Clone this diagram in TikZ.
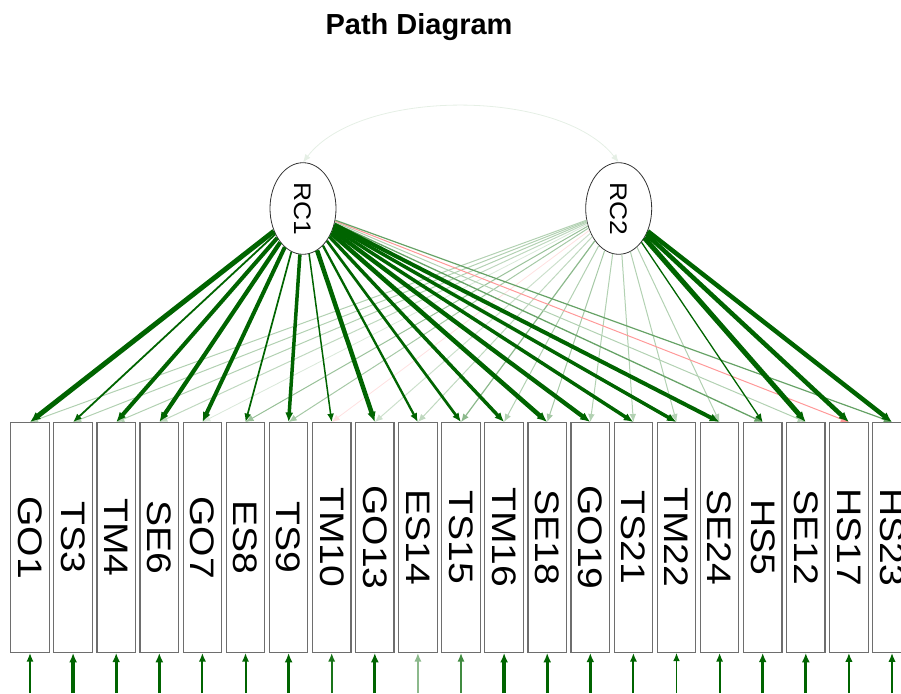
\documentclass[tikz,border=0pt]{standalone}
\usepackage{fontspec}
\setmainfont{Liberation Sans}
\usetikzlibrary{arrows.meta,shapes.geometric}
\definecolor{loadgreen}{RGB}{0,100,0}
\definecolor{framegray}{RGB}{110,110,110}
% label/main factor/cross factor/main width/cross width/cross colour/residual width/residual colour
\newcommand\itemlist{%
  GO1/rc1/rc2/5.0/1.0/loadgreen!30/2.0/loadgreen,
  TS3/rc1/rc2/1.8/1.0/loadgreen!30/3.3/loadgreen,
  TM4/rc1/rc2/4.0/1.0/loadgreen!30/2.7/loadgreen,
  SE6/rc1/rc2/4.2/1.0/loadgreen!25/3.3/loadgreen,
  GO7/rc1/rc2/4.0/0.8/loadgreen!15/2.0/loadgreen,
  ES8/rc1/rc2/1.7/1.0/loadgreen!40/2.0/loadgreen,
  TS9/rc1/rc2/3.5/1.0/loadgreen!35/3.3/loadgreen,
  TM10/rc1/rc2/1.5/0.8/red!12/2.0/loadgreen!90,
  GO13/rc1/rc2/4.5/1.0/loadgreen!20/3.3/loadgreen,
  ES14/rc1/rc2/2.3/1.0/loadgreen!25/2.0/loadgreen!45,
  TS15/rc1/rc2/2.7/1.2/loadgreen!45/2.0/loadgreen!75,
  TM16/rc1/rc2/3.5/1.0/loadgreen!30/3.3/loadgreen,
  SE18/rc1/rc2/4.5/1.0/loadgreen!35/3.3/loadgreen,
  GO19/rc1/rc2/4.3/1.0/loadgreen!30/2.7/loadgreen,
  TS21/rc1/rc2/3.5/1.0/loadgreen!30/2.0/loadgreen,
  TM22/rc1/rc2/3.5/1.0/loadgreen!30/1.3/loadgreen,
  SE24/rc1/rc2/4.0/1.0/loadgreen!30/2.0/loadgreen,
  HS5/rc2/rc1/1.3/1.3/loadgreen!60/2.7/loadgreen,
  SE12/rc2/rc1/5.0/1.0/loadgreen!30/3.3/loadgreen,
  HS17/rc2/rc1/4.5/1.0/red!40/2.3/loadgreen,
  HS23/rc2/rc1/4.5/1.2/loadgreen!60/2.3/loadgreen}

\begin{document}
\begin{tikzpicture}[x=1pt, y=1pt, >={Latex[length=7.5pt 0.6,width=6pt 0.6]},
	factor/.style={ellipse, draw=black!80, line width=0.8pt, fill=white, minimum width=66pt, minimum height=91.6pt, inner sep=0pt, font=\fontsize{24}{24}\selectfont},
	item/.style={rectangle, draw=framegray, line width=1.2pt, fill=white, minimum width=38.5pt, minimum height=229.6pt, inner sep=0pt, font=\fontsize{34}{34}\selectfont}]
	\useasboundingbox (0,0) rectangle (901,693);
	\node[font=\bfseries\fontsize{29}{29}\selectfont, anchor=base] (title) at (419,658.7) {Path Diagram};
	\node[factor] (rc1) at (303,484.5) {\rotatebox{-90}{\scalebox{1.1}[1]{RC1}}};
	\node[factor] (rc2) at (618.7,484.5) {\rotatebox{-90}{\scalebox{1.1}[1]{RC2}}};
	\draw[<->, line width=0.8pt, loadgreen!10] (rc1.north) .. controls (360,605) and (560,605) .. (rc2.north);
	% observed items with their residuals
	\foreach \lab/\mf/\cf/\mw/\cw/\cc/\rw/\rc [count=\i from 0] in \itemlist {
		\node[item] (b\i) at ({30+43.1*\i},155.5) {\rotatebox{-90}{\scalebox{1.15}[1]{\lab}}};
		\coordinate (r\i) at ({30+43.1*\i},0);
		\draw[->, line width=\rw pt, \rc] (r\i) -- (b\i.south);
	}
	% cross loadings below, main loadings on top
	\foreach \lab/\mf/\cf/\mw/\cw/\cc/\rw/\rc [count=\i from 0] in \itemlist
		\draw[->, line width=\cw pt, \cc] (\cf) -- (b\i.north);
	\foreach \lab/\mf/\cf/\mw/\cw/\cc/\rw/\rc [count=\i from 0] in \itemlist
		\draw[->, line width=\mw pt, loadgreen] (\mf) -- (b\i.north);
\end{tikzpicture}
\end{document}
